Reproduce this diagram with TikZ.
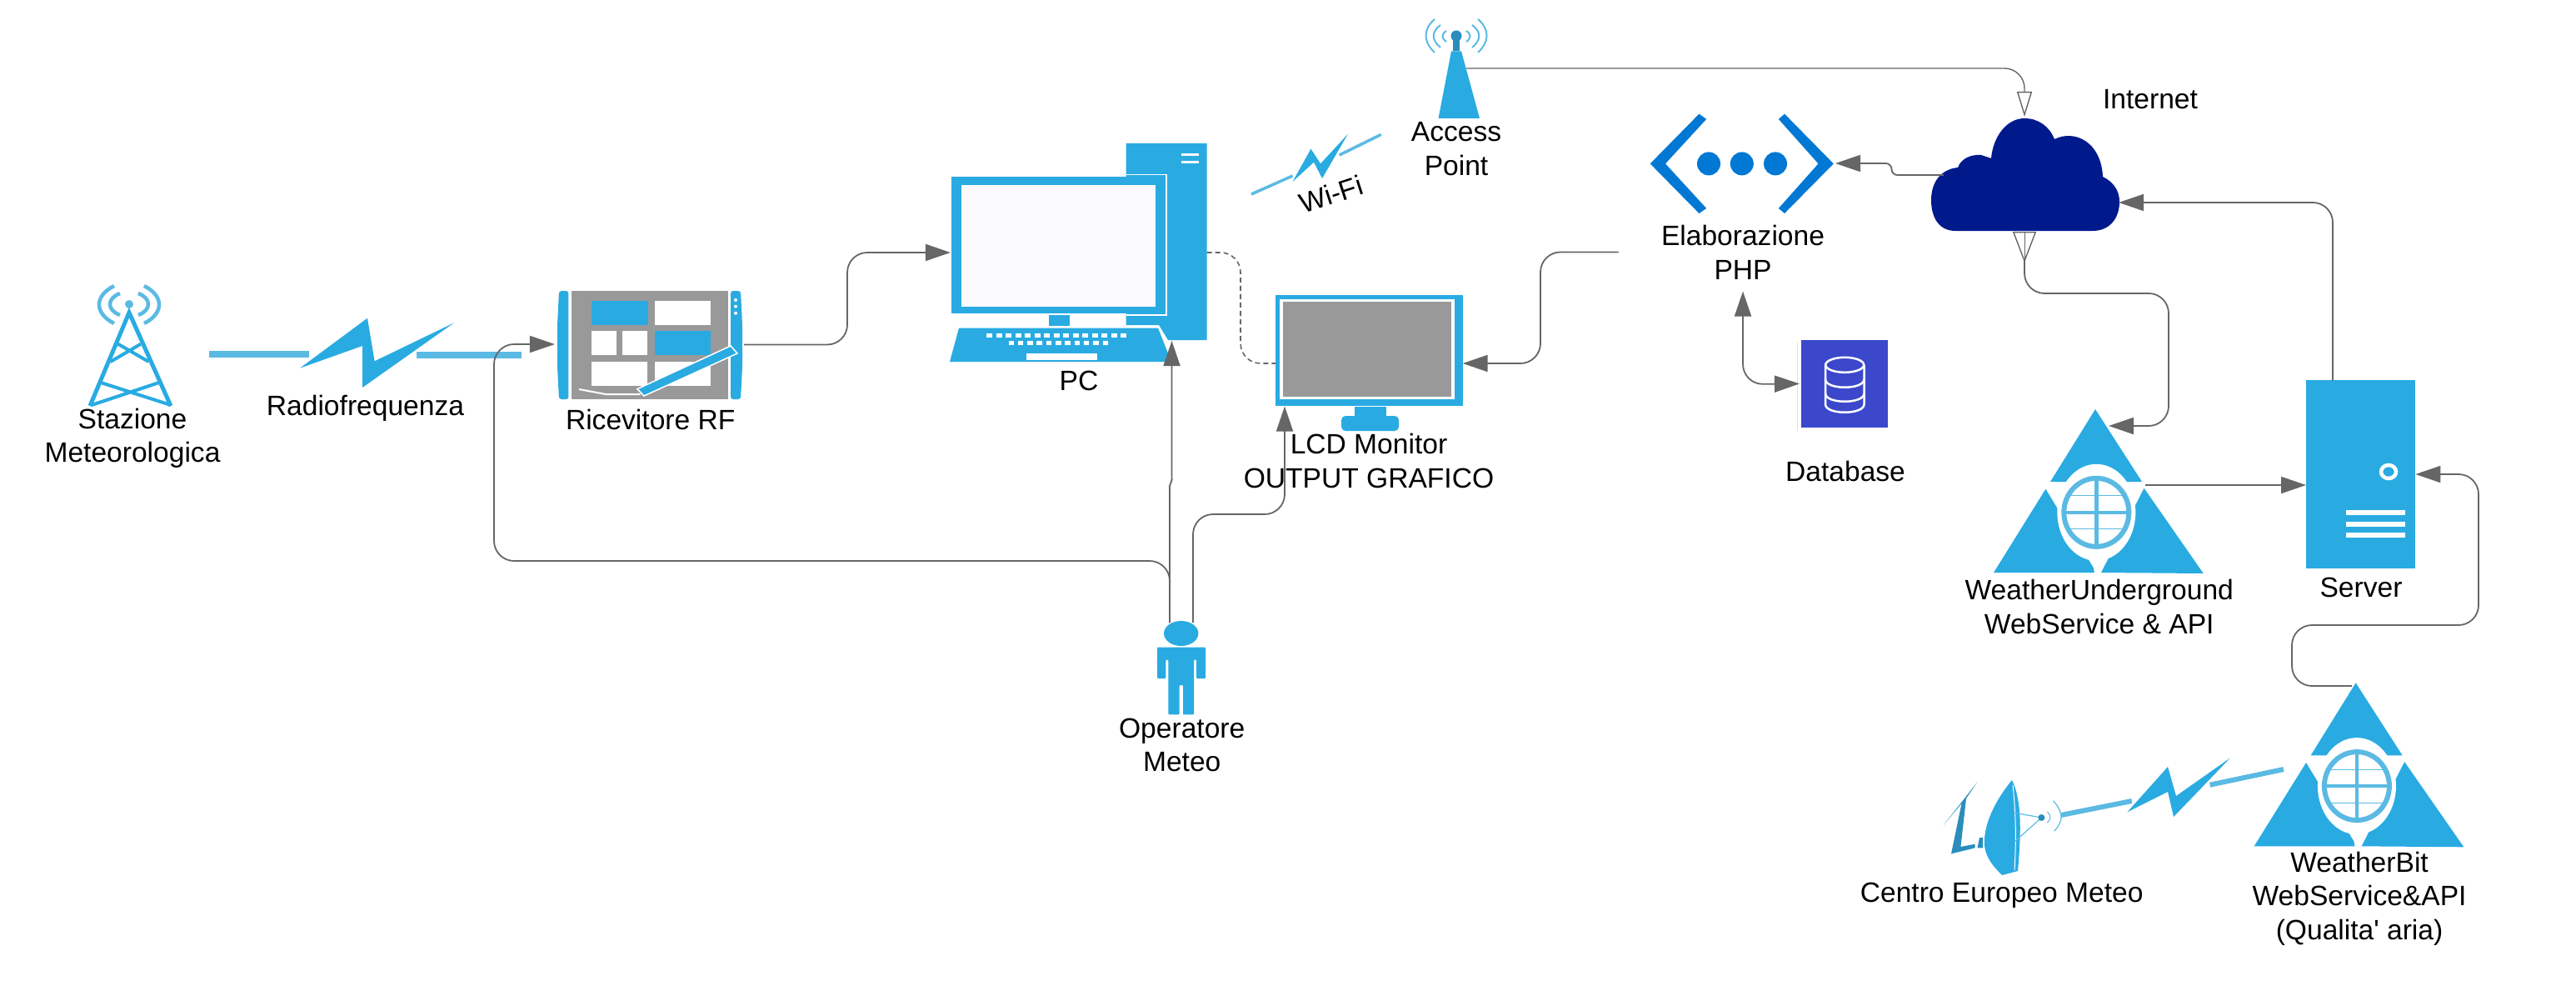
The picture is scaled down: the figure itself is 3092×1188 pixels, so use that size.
\documentclass[tikz,border=0pt]{standalone}
\usepackage{fontspec}
\newfontfamily\labelfont{Liberation Sans}
\usepackage{xcolor}
\usetikzlibrary{positioning,arrows.meta}

\definecolor{iconblue}{HTML}{29ABE2}
\definecolor{lightblue}{HTML}{5BBAE3}
\definecolor{darkblue}{HTML}{2A8DBC}
\definecolor{linegray}{HTML}{666666}
\definecolor{cloudblue}{HTML}{001A8C}
\definecolor{phpblue}{HTML}{0078D4}
\definecolor{dbblue}{HTML}{3B48CC}
\definecolor{panelgray}{HTML}{999999}

\begin{document}
\begin{tikzpicture}[
			x=0.01cm, y=-0.01cm,
			label/.style={align=center, inner sep=0pt, font=\labelfont\fontsize{9.55}{11.5}\selectfont},
			iconbox/.style={inner sep=0pt, outer sep=0pt},
			wave/.style={draw=lightblue, line width=0.045cm},
			thinwave/.style={draw=lightblue, line width=0.02cm},
			radiolink/.style={draw=lightblue, line width=0.08cm},
			wifilink/.style={draw=lightblue, line width=0.035cm},
			flow/.style={draw=linegray, line width=0.018cm, rounded corners=0.24cm,
				-{Triangle[length=0.3cm, width=0.2cm, fill=linegray]}},
			both/.style={flow, {Triangle[length=0.3cm, width=0.2cm, fill=linegray]}-{Triangle[length=0.3cm, width=0.2cm, fill=linegray]}},
			openflow/.style={draw=linegray, line width=0.014cm, rounded corners=0.24cm,
				-{Triangle[open, length=0.3cm, width=0.18cm, fill=none]}},
			dashflow/.style={draw=linegray, line width=0.016cm, dash pattern=on 0.06cm off 0.04cm, rounded corners=0.24cm},
			pics/apiicon/.style={code={
				\fill[iconblue] (0,0) -- (-54,87) -- (56,87) -- cycle;
				\fill[iconblue] (-59.6,95.7) -- (-122,196) -- (1.3,196) -- cycle;
				\fill[iconblue] (58.5,94.7) -- (129.7,197) -- (7,196) -- cycle;
				\fill[white] (1.3,123.8) ellipse [x radius=47, y radius=58];
				\fill[white] (-5,170) -- (-1,197) -- (6,197) -- (10,170) -- cycle;
				\draw[lightblue, line width=0.06cm] (1.3,123.8) ellipse [x radius=39, y radius=41];
				\draw[lightblue, line width=0.045cm] (1.3,83) -- (1.3,165) (-38,123.8) -- (40,123.8);
				\draw[lightblue, line width=0.012cm] (-32,103.8) -- (35,103.8) (-32,143.8) -- (35,143.8);
			}}
			]
			\useasboundingbox (0,0) rectangle (3092,1188);
			
			%==================== Stazione e radiofrequenza ====================
			\node[iconbox, minimum width=0.97cm, minimum height=1.45cm] (station) at (156.5,414) {};
			\foreach \side in {-1,1} {
				\draw[wave] (155+\side*18,343) .. controls (155+\side*42,355) and (155+\side*42,376) .. (155+\side*18,388);
				\draw[wave] (155+\side*11,352) .. controls (155+\side*27,358) and (155+\side*27,372) .. (155+\side*11,378);
			}
			\fill[lightblue] (155,365) circle (5);
			\draw[iconblue, line width=0.05cm] (108,487) -- (155,375) -- (205,487);
			\draw[iconblue, line width=0.04cm] (141.6,412.7) -- (178.6,434) (169,412.7) -- (132.6,434)
				(121,459) -- (205,486) (191,459) -- (110,486);
			\node[label] (stationtext) at (159,526) {Stazione\\Meteorologica};
			
			\draw[radiolink] (251,425) -- (371,425);
			\draw[radiolink] (500,426) -- (626,426);
			\fill[iconblue] (360,441.7) -- (441,381.7) -- (449.6,433.3) -- (545,387.3) -- (435,465) -- (435,415) -- cycle;
			\node[label] (rftext) at (438.5,490) {Radiofrequenza};
			
			%==================== Ricevitore RF ====================
			\node[iconbox, minimum width=2.27cm, minimum height=1.31cm] (receiver) at (779.5,413.5) {};
			\fill[iconblue, rounded corners=0.03cm] (671,349) -- (682.4,349) -- (682.4,479) -- (671,479) -- (669,440) -- (669,390) -- cycle;
			\fill[iconblue, rounded corners=0.03cm] (877,349) -- (889,349) -- (891,390) -- (891,440) -- (889,479) -- (877,479) -- cycle;
			\foreach \ky in {360,367.7,375.7}
				\fill[white] (883,\ky) circle (2);
			\fill[panelgray] (686,349) rectangle (873.7,479);
			\fill[iconblue] (710,360.7) rectangle (778,390);
			\fill[white] (785.7,360.7) rectangle (853.3,390);
			\fill[white] (710,397.3) rectangle (740,426);
			\fill[white] (747.4,397.3) rectangle (776.8,426);
			\fill[iconblue] (785.7,397.3) rectangle (853.3,426);
			\fill[white] (710,434) rectangle (777,463.3);
			\fill[white] (785.7,434) rectangle (853.3,463.3);
			\draw[white, line width=0.015cm, fill=iconblue] (765,466.7) -- (877,415) -- (885,424) -- (773,475) -- cycle;
			\draw[white, line width=0.02cm] (695,467) -- (727,473) -- (768.5,473);
			\node[label] (receivertext) at (780.7,503) {Ricevitore RF};
			
			%==================== PC ====================
			\node[iconbox, minimum width=3.075cm, minimum height=2.62cm] (pc) at (1294.75,303) {};
			\fill[iconblue] (1351.5,172) -- (1448.5,172) -- (1448.5,408) -- (1402,408) -- (1391,390) -- (1351.5,390) -- cycle;
			\fill[white] (1418,184) rectangle (1439,187);
			\fill[white] (1418,193) rectangle (1439,196);
			\draw[white, line width=0.015cm] (1351.5,209.5) -- (1400,209.5) -- (1400,378) -- (1351.5,378);
			\fill[iconblue] (1142,212) rectangle (1398.5,376);
			\fill[blue!2!white] (1153.5,222) rectangle (1387,368);
			\fill[iconblue] (1259,378) rectangle (1284,391);
			\fill[iconblue] (1151,393.6) -- (1390,393.6) -- (1406,434) -- (1140,434) -- cycle;
			\foreach \k in {0,...,14}
				\fill[white] (1184+\k*11.5,400) rectangle +(7,5.4);
			\foreach \k in {0,...,10}
				\fill[white] (1210.5+\k*11.3,409) rectangle +(6.5,5);
			\fill[white] (1231.6,424) rectangle (1316.8,432);
			\node[label] (pctext) at (1295,457) {PC};
			
			%==================== Access Point e Wi-Fi ====================
			\node[iconbox, minimum width=0.5cm, minimum height=1.2cm] (ap) at (1751,82) {};
			\fill[iconblue] (1742,61.4) -- (1754,61.4) -- (1776,142) -- (1726.5,142) -- cycle;
			\fill[darkblue] (1744,46) rectangle (1752,61);
			\fill[darkblue] (1748,43) circle (6.5);
			\foreach \side in {-1,1} {
				\draw[thinwave] (1748+\side*26,23) .. controls (1748+\side*40,35) and (1748+\side*40,50) .. (1748+\side*26,63);
				\draw[thinwave] (1748+\side*19,30) .. controls (1748+\side*30,38) and (1748+\side*30,48) .. (1748+\side*19,57);
				\draw[thinwave] (1748+\side*12,37) .. controls (1748+\side*18,41) and (1748+\side*18,46) .. (1748+\side*12,50);
			}
			\node[label] (aptext) at (1748,178.5) {Access\\Point};
			
			\draw[wifilink] (1502,233) -- (1551.5,211);
			\draw[wifilink] (1607.7,186) -- (1657.7,161.4);
			\fill[iconblue] (1551.5,218) -- (1573.5,178.6) -- (1585,196.4) -- (1618,160.7) -- (1587,214) -- (1577,194.6) -- cycle;
			\node[label, rotate=18] (wifitext) at (1597.5,233) {Wi-Fi};
			
			%==================== LCD Monitor ====================
			\node[iconbox, fill=iconblue, minimum width=2.246cm, minimum height=1.325cm] (lcd) at (1643.3,420.25) {};
			\fill[white] (1536,358.6) rectangle (1746,479);
			\fill[panelgray] (1540,362) rectangle (1742,476);
			\fill[iconblue] (1625.5,488) rectangle (1664,500);
			\fill[iconblue, rounded corners=0.05cm] (1610,499) rectangle (1679,517);
			\node[label] (lcdtext) at (1643,553) {LCD Monitor\\OUTPUT GRAFICO};
			
			%==================== Operatore ====================
			\node[iconbox, minimum width=0.58cm, minimum height=1.12cm] (operator) at (1418,801) {};
			\fill[iconblue] (1417.7,760) ellipse [x radius=20.7, y radius=15];
			\fill[iconblue, rounded corners=0.01cm] (1389,776.7) -- (1447,776.7) -- (1447,814) -- (1436,814) -- (1436,791.7) -- (1433,791.7)
				-- (1433,857.3) -- (1420,857.3) -- (1420,822) -- (1415.7,822) -- (1415.7,857.3) -- (1402.3,857.3)
				-- (1402.3,791.7) -- (1399.3,791.7) -- (1399.3,814) -- (1389,814) -- cycle;
			\node[label] (operatortext) at (1418.7,894) {Operatore\\Meteo};
			
			%==================== Elaborazione PHP e Database ====================
			\node[iconbox, minimum width=2.2cm, minimum height=1.2cm] (php) at (2090.8,196.4) {};
			\fill[phpblue] (1980.7,196.4) -- (2039.4,136.7) -- (2048.2,142.9) -- (1999,196.4) -- (2048.2,250) -- (2039.4,256) -- cycle;
			\fill[phpblue] (2200.8,196.4) -- (2142,136.7) -- (2134.8,142.9) -- (2182.5,196.4) -- (2134.8,250) -- (2142,256) -- cycle;
			\foreach \cx in {2051,2090.8,2131}
				\fill[phpblue] (\cx,196.4) circle (14);
			\node[label] (phptext) at (2092,303) {Elaborazione\\PHP};
			
			\fill[black!12] (2157,411) rectangle (2270,517);
			\node[iconbox, fill=dbblue, draw=white, line width=0.035cm, minimum width=1.08cm, minimum height=1.09cm] (db) at (2214,460.4) {};
			\begin{scope}[draw=white, line width=0.025cm]
				\draw (2214.2,437.8) ellipse [x radius=23, y radius=9];
				\draw (2191,437.8) -- (2191,485) .. controls (2191,498) and (2237.5,498) .. (2237.5,485) -- (2237.5,437.8);
				\draw (2191,455) .. controls (2191,468) and (2237.5,468) .. (2237.5,455);
				\draw (2191,472) .. controls (2191,485) and (2237.5,485) .. (2237.5,472);
			\end{scope}
			\node[label] (dbtext) at (2215,565) {Database};
			
			%==================== Internet ====================
			\node[iconbox, minimum width=2.26cm, minimum height=1.35cm] (cloud) at (2431,209.5) {};
			\fill[cloudblue] (2347,277) .. controls (2328,277) and (2318,262) .. (2318,240)
				.. controls (2318,218) and (2330,203) .. (2350,201)
				.. controls (2354,190) and (2366,185) .. (2378,186) -- (2390,190)
				.. controls (2392,165) and (2408,142) .. (2430,142)
				.. controls (2447,142) and (2460,152) .. (2466,167)
				.. controls (2490,155) and (2522,170) .. (2524,212)
				.. controls (2536,218) and (2544,228) .. (2544,242)
				.. controls (2544,262) and (2532,277) .. (2512,277) -- cycle;
			\node[label] (cloudtext) at (2581,119) {Internet};
			
			%==================== Servizi web ====================
			\pic (wuicon) at (2515,491) {apiicon};
			\node[label] (wutext) at (2519.7,728) {WeatherUnderground\\WebService \& API};
			\coordinate (wutop) at (2531,511);
			\coordinate (wuout) at (2575,582);
			
			\node[iconbox, fill=iconblue, minimum width=1.313cm, minimum height=2.25cm] (server) at (2833.6,569) {};
			\draw[white, line width=0.045cm] (2867,566) ellipse [x radius=9, y radius=8];
			\foreach \sy in {614.8,628.6,641.8}
				\fill[white] (2815.6,\sy-3) rectangle (2886.8,\sy+3);
			\node[label] (servertext) at (2834,705) {Server};
			\coordinate (servertop) at (2800,456.6);
			\coordinate (serverin) at (2768,582);
			
			\pic (wbicon) at (2827.6,819.3) {apiicon};
			\node[label] (wbtext) at (2832,1078) {WeatherBit\\WebService\&API\\(Qualita' aria)};
			\coordinate (wbout) at (2823,823);
			
			%==================== Centro Europeo ====================
			\fill[darkblue] (2373.4,938.3) -- (2332.8,990) -- (2354.5,964) -- (2342,1024.3) -- (2370.7,1017.3) -- (2370.7,1012.7) -- (2353.4,1016) -- (2360,958) -- cycle;
			\fill[darkblue] (2376,1005) -- (2373.4,1017.3) -- (2380,1017.3) -- (2380,1005) -- cycle;
			\node[iconbox, minimum width=0.45cm, minimum height=1.14cm] (dish) at (2404,993) {};
			\fill[iconblue] (2415,936) .. controls (2395,960) and (2380,990) .. (2382,1015)
				.. controls (2384,1030) and (2393,1040) .. (2403,1050) -- (2422,1045)
				.. controls (2426,1000) and (2427,960) .. (2415,936) -- cycle;
			\draw[white, line width=0.01cm] (2416,942) .. controls (2420,980) and (2420,1010) .. (2418,1044);
			\draw[lightblue, line width=0.012cm] (2416.8,975) -- (2450.4,981) -- (2418,1010);
			\fill[darkblue] (2450.4,981) circle (4);
			\draw[lightblue, line width=0.01cm] (2457.4,974) .. controls (2462,978) and (2462,983) .. (2457.4,987);
			\draw[lightblue, line width=0.012cm] (2464.5,960.7) .. controls (2477,975) and (2477,985) .. (2465.6,997.3);
			\node[label] (dishtext) at (2402.7,1074) {Centro Europeo Meteo};
			
			\draw[radiolink, line width=0.06cm] (2473.7,978) -- (2558.8,961);
			\draw[radiolink, line width=0.06cm] (2652.6,941.7) -- (2741,923);
			\fill[iconblue] (2553.4,974.3) -- (2602,920) -- (2612,955) -- (2677,909.3) -- (2609,980) -- (2602,950) -- cycle;
			
			%==================== Collegamenti ====================
			\coordinate (receiverin) at (666,413);
			\coordinate (pcunder) at (1406.5,409);
			\coordinate (lcdunder) at (1542,487.5);
			\coordinate (lcdleft) at (1531,436);
			\coordinate (lcdright) at (1755.6,436);
			\coordinate (phpleft) at (1942.5,302.5);
			\coordinate (phpunder) at (2092,349.5);
			\coordinate (phpright) at (2203,196);
			\coordinate (apright) at (1760,82);
			\coordinate (cloudtop) at (2430,140);
			\coordinate (cloudleft) at (2333,210);
			\coordinate (cloudunder) at (2430,278);
			\coordinate (cloudright) at (2543,243);
			\coordinate (operatorleft) at (1404,747);
			\coordinate (operatorright) at (1432,747);
			
			\draw[flow] (receiver.east) -- (1017,413.5) -- (1017,303) -- (pc.west);
			\draw[flow] (operatorleft) -- (1404,673) -- (593,673) -- (593,413) -- (receiverin);
			\draw[flow, rounded corners=0.02cm] (operatorleft) -- (1404,581) -- (1406.5,578) -- (pcunder);
			\draw[flow] (operatorright) -- (1432,617) -- (1542,617) -- (lcdunder);
			\draw[dashflow] (pc.east) -- (1489,303) -- (1489,436) -- (lcdleft);
			\draw[flow] (phpleft) -- (1849,302.5) -- (1849,436) -- (lcdright);
			\draw[openflow] (apright) -- (2430,82) -- (cloudtop);
			\draw[flow, rounded corners=0.07cm] (cloudleft) -- (2270.5,210) -- (2270.5,196) -- (phpright);
			\draw[flow, {Triangle[open, reversed, length=0.37cm, width=0.28cm, fill=none, line width=0.014cm]}-{Triangle[length=0.3cm, width=0.2cm, fill=linegray]}]
				(cloudunder) -- (2430,352) -- (2603,352) -- (2603,511) -- (wutop);
			\draw[draw=linegray, line width=0.008cm] (cloudunder) -- (2430,316);
			\draw[flow] (servertop) -- (2800,243) -- (cloudright);
			\draw[flow] (wuout) -- (serverin);
			\draw[flow] (wbout) -- (2751,823) -- (2751,750) -- (2975,750) -- (2975,569) -- (server.east);
			\draw[both] (phpunder) -- (2092,461) -- (db.west);
			
		\end{tikzpicture}
\end{document}
